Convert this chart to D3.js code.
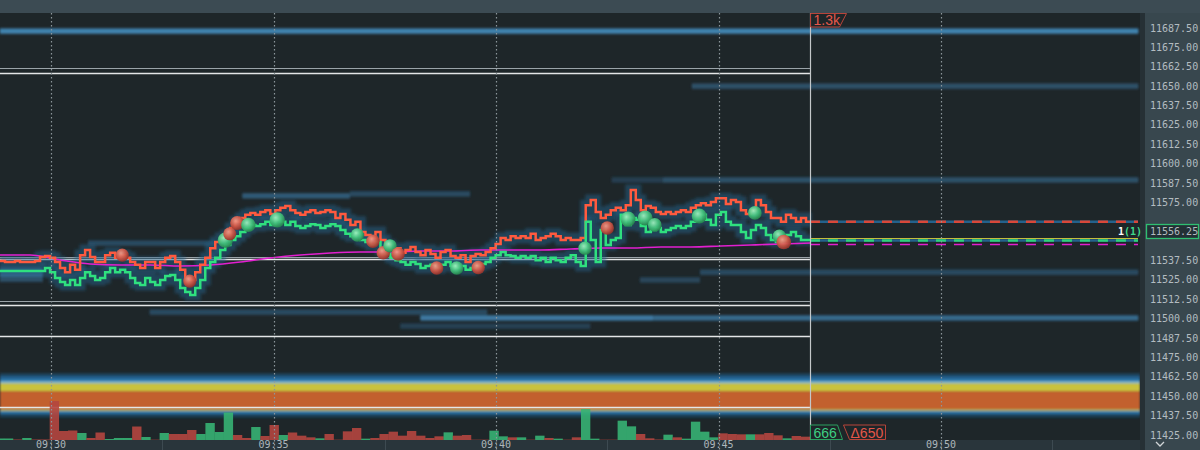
<!DOCTYPE html>
<html><head><meta charset="utf-8">
<script src="https://cdn.jsdelivr.net/npm/d3@7"></script>
<style>html,body{margin:0;padding:0;background:#1e2629;overflow:hidden}</style>
</head><body><svg id="c" width="1200" height="450"></svg>
<script>
// ---------- DATA ----------
const viewStart = "09:28:51.2";
const viewEnd = "09:54:25.6";
const nowTime = "09:47:03.3";
const sampleStart = "09:28:51.2";
const sampleStep = 6.75;           // seconds between price samples
const askPrices = [
11537.25,11536.50,11536.50,11537.25,11536.50,11536.50,11536.50,11537.25,11539.75,11540.50,
11539.25,11536.50,11532.75,11530.00,11534.75,11531.50,11541.00,11544.25,11539.75,11536.50,
11536.50,11541.00,11542.50,11539.25,11541.00,11539.25,11536.50,11534.75,11532.75,11536.50,
11536.50,11532.75,11536.50,11539.25,11540.50,11536.50,11531.50,11526.25,11525.00,11530.00,
11534.75,11539.25,11545.50,11549.50,11552.00,11554.00,11558.50,11562.50,11565.00,11567.00,
11568.25,11567.00,11568.75,11570.00,11567.50,11570.00,11571.50,11572.75,11570.00,11568.25,
11567.00,11568.75,11570.00,11568.25,11568.75,11570.00,11568.75,11565.00,11567.50,11563.75,
11560.50,11562.50,11556.00,11554.00,11552.00,11556.00,11550.75,11547.50,11544.25,11545.50,
11542.50,11544.25,11546.25,11543.00,11541.00,11544.25,11541.75,11539.25,11543.00,11544.25,
11540.50,11539.25,11541.00,11536.50,11540.50,11541.75,11541.00,11543.00,11545.50,11548.25,
11552.00,11550.75,11553.25,11552.00,11553.25,11552.00,11554.75,11550.75,11552.00,11553.25,
11554.75,11553.25,11550.75,11552.00,11550.75,11550.75,11552.00,11573.25,11576.50,11568.75,
11565.00,11567.00,11570.00,11571.50,11570.00,11573.25,11583.00,11576.50,11570.00,11572.75,
11571.50,11568.75,11567.50,11568.75,11567.50,11568.75,11570.00,11568.75,11571.50,11573.25,
11574.50,11573.25,11575.25,11577.75,11577.75,11574.00,11576.50,11575.25,11570.00,11567.50,
11570.00,11576.50,11573.25,11568.75,11565.00,11565.00,11562.50,11567.00,11565.00,11562.50,
11565.00,11562.50,11562.50];
const bidPrices = [
11530.75,11530.75,11530.75,11530.75,11530.75,11530.75,11530.75,11530.75,11530.75,11532.75,
11530.00,11526.25,11523.75,11521.75,11525.00,11521.75,11526.25,11530.00,11527.50,11525.00,
11526.25,11530.00,11532.75,11530.00,11531.50,11530.00,11526.25,11523.00,11521.75,11526.25,
11523.75,11521.75,11525.00,11527.50,11528.25,11525.00,11519.75,11517.25,11515.25,11519.75,
11525.00,11532.75,11536.50,11539.25,11544.25,11547.50,11550.75,11553.25,11556.00,11558.50,
11560.50,11559.75,11561.00,11562.50,11560.50,11563.75,11562.50,11560.50,11562.50,11559.75,
11558.50,11559.75,11561.00,11560.50,11558.50,11559.75,11561.00,11559.75,11557.25,11554.75,
11553.25,11555.25,11550.75,11549.50,11547.50,11549.50,11544.25,11541.75,11539.25,11537.75,
11536.50,11534.75,11536.50,11535.25,11532.75,11534.00,11534.75,11532.75,11534.75,11536.50,
11534.00,11532.75,11534.00,11531.50,11532.75,11534.00,11535.25,11536.50,11539.25,11541.00,
11543.00,11541.00,11540.50,11539.25,11540.50,11539.25,11540.50,11537.75,11539.25,11536.50,
11539.25,11537.75,11536.50,11539.25,11541.00,11536.50,11534.00,11562.50,11550.75,11536.50,
11557.25,11547.50,11550.75,11552.00,11567.00,11560.50,11565.00,11563.75,11559.75,11556.00,
11557.25,11558.50,11556.00,11557.25,11558.50,11559.75,11558.50,11559.75,11562.50,11563.75,
11567.00,11563.75,11560.50,11567.00,11568.75,11562.50,11560.50,11560.50,11556.00,11552.00,
11557.25,11560.50,11558.50,11554.00,11550.75,11549.50,11550.75,11554.00,11556.00,11553.25,
11550.75,11550.75,11550.75];
const vwapStep = 40.5;            // seconds between VWAP samples
const vwapPrices = [11541.09,11541.09,11537.86,11535.28,11534.64,11534.64,11533.99,11534.64,11536.57,11539.15,
11541.09,11542.38,11543.02,11543.02,11543.67,11543.67,11544.31,11544.31,11544.31,11544.96,11545.60,11545.60,
11546.25,11546.25,11546.89,11547.54,11548.18,11548.83];
const lastPrice = 11556.25;

const tradeTimes = ["09:31:36","09:33:07","09:33:55","09:34:01","09:34:11","09:34:26","09:35:05","09:36:53","09:37:14",
"09:37:28","09:37:37","09:37:48","09:38:40","09:39:07","09:39:36","09:42:00","09:42:30","09:42:58","09:43:21",
"09:43:34","09:44:34","09:45:49","09:46:22","09:46:28"];
const tradePrices = [11541.00,11524.25,11550.75,11554.75,11561.75,11560.50,11563.75,11554.00,11550.00,
11542.50,11547.00,11541.75,11532.75,11532.75,11533.00,11545.50,11558.50,11564.25,11565.00,
11560.50,11566.25,11568.25,11553.25,11549.50];
const tradeSizes = [38,38,52,38,44,46,52,40,40,40,40,40,40,40,40,40,40,50,50,42,50,42,40,48];
const tradeSides = ["s","s","b","s","s","b","b","b","s","s","b","s","s","b","s","b","s","b","b","b","b","b","b","s"];

const volStart = "09:28:44.1";
const volumes = [45,45,-15,60,-15,-15,-1170,-270,-285,210,-60,-225,30,60,60,-405,90,-10,210,-180,-180,-300,180,510,240,825,-150,-60,390,-120,-450,150,-225,
-130,-80,50,-180,-10,-260,-360,40,-60,-180,-250,-130,-270,-130,-60,-110,230,-130,-150,-10,-10,280,110,-80,80,-10,130,-60,40,-10,-80,930,40,-10,-10,580,410,-180,-50,-15,160,-80,40,550,250,80,-200,-180,-170,170,-170,-210,-140,50,-120,-100];
const volMaxLabel = "1.3k";
const buyVolLabel = "666";
const deltaLabel = "Δ650";

const bookPrices = [11685.50,11650.00,11589.50,11589.50,11579.25,11580.50,11548.75,11530.00,11525.00,11504.25,11500.50,11500.50,11495.25,11531.00,11528.00,11525.50];
const bookFrom = ["09:28:51","09:44:24","09:42:36","09:43:45","09:34:18","09:36:43","09:30:50","09:44:35","09:43:14","09:32:13","09:38:18","09:43:32","09:37:51","09:28:51","09:28:51","09:28:51"];
const bookTo = ["09:54:26","09:54:26","09:43:45","09:54:26","09:36:43","09:39:25","09:33:41","09:54:26","09:44:35","09:39:48","09:43:32","09:54:26","09:42:07","09:29:49","09:29:49","09:29:49"];
const bookLevel = [0.85,0.35,0.18,0.35,0.45,0.3,0.3,0.3,0.25,0.3,0.75,0.6,0.2,0.6,0.6,0.35];

const wallEdges = [11465.00,11463.00,11461.00,11459.50,11458.25,11453.25,11441.50,11440.75,11440.25,11438.50,11436.50];
const wallLevel = [0.3,0.5,0.6,0.75,0.9,1.0,0.9,0.75,0.55,0.3];

const levelPrices = [11661.75,11658.75,11539.50,11538.50,11511.50,11508.75,11488.75,11442.75];
const levelKinds = ["minor","major","minor","major","minor","major","major","major"];

const priceMin = 11425, priceMax = 11687.5, priceTickStep = 12.5;
const dominantLabel = ["1", "(1)"];

// ---------- SETUP ----------
const W = 1200, H = 450, plotR = 1138, topY = 13, volBase = 440;
const T = s => { const [h,m,sec] = s.split(":").map(Number); return new Date(2024,0,2,h,m,0,Math.round(sec*1000)); };
const addS = (d, s) => new Date(d.getTime() + s*1000);
const x = d3.scaleTime().domain([T(viewStart), T(viewEnd)]).range([0, plotR]);
const y = d3.scaleLinear().domain([priceMin, priceMax]).range([435, 28]);
const svg = d3.select("#c");
const defs = svg.append("defs");

function ballGrad(id, c0, c1, c2){
  const g = defs.append("radialGradient").attr("id", id).attr("cx","40%").attr("cy","35%").attr("r","65%");
  g.append("stop").attr("offset","0%").attr("stop-color",c0);
  g.append("stop").attr("offset","55%").attr("stop-color",c1);
  g.append("stop").attr("offset","100%").attr("stop-color",c2);
}
ballGrad("gb","#9eeebf","#45c27e","#27864f");
ballGrad("gs","#f09a88","#cf5a4a","#94332b");
defs.append("filter").attr("id","soft").attr("x","-5%").attr("y","-200%").attr("width","110%").attr("height","500%")
  .append("feGaussianBlur").attr("stdDeviation","0.9");
defs.append("filter").attr("id","glow").attr("x","-5%").attr("y","-50%").attr("width","110%").attr("height","200%")
  .append("feGaussianBlur").attr("stdDeviation","1.6");
defs.append("clipPath").attr("id","plotclip").append("rect").attr("x",0).attr("y",topY).attr("width",plotR+3).attr("height",volBase-topY);

// backgrounds
svg.append("rect").attr("width",W).attr("height",H).attr("fill","#1e2629");
svg.append("rect").attr("x",0).attr("y",0).attr("width",W).attr("height",topY).attr("fill","#3c4b53");

const plot = svg.append("g").attr("clip-path","url(#plotclip)");

// order book bands
const bandColor = d3.scaleLinear().domain([0,1]).range(["#1e2c36","#4a98cc"]);
const books = bookPrices.map((p,i)=>({p, a:T(bookFrom[i]), b:T(bookTo[i]), l:bookLevel[i]}));
const bg = plot.append("g").attr("filter","url(#soft)");
bg.selectAll("rect.o").data(books).join("rect").attr("class","o")
  .attr("x",d=>x(d.a)).attr("width",d=>x(d.b)-x(d.a)).attr("y",d=>y(d.p)-3).attr("height",6)
  .attr("fill",d=>bandColor(d.l*0.7));
bg.selectAll("rect.i").data(books).join("rect").attr("class","i")
  .attr("x",d=>x(d.a)).attr("width",d=>x(d.b)-x(d.a)).attr("y",d=>y(d.p)-1.3).attr("height",2.6)
  .attr("fill",d=>bandColor(d.l));

// liquidity wall
const heat = d3.scaleLinear().domain([0,0.3,0.5,0.6,0.75,0.9,1]).range(["#1e2629","#1d3f57","#22618e","#2f7fb4","#8cc3d6","#c9c23e","#c2602f"]);
const wall = wallLevel.map((l,i)=>({hi:wallEdges[i], lo:wallEdges[i+1], l}));
plot.append("g").attr("filter","url(#soft)").selectAll("rect").data(wall).join("rect")
  .attr("x",0).attr("width",plotR+2).attr("y",d=>y(d.hi)).attr("height",d=>y(d.lo)-y(d.hi)+0.3)
  .attr("fill",d=>heat(d.l));

// horizontal levels
const xNow = x(T(nowTime));
plot.selectAll("line.lvl").data(levelPrices.map((p,i)=>({p,k:levelKinds[i]}))).join("line")
  .attr("x1",0).attr("x2",xNow).attr("y1",d=>Math.round(y(d.p))+0.5).attr("y2",d=>Math.round(y(d.p))+0.5)
  .attr("stroke",d=>d.k==="major"?"#e4e6e7":"#9aa3a8").attr("stroke-width",d=>d.k==="major"?1.3:1);

// price series
const t0 = T(sampleStart);
const ask = askPrices.map((p,i)=>({t:addS(t0,i*sampleStep), p}));
const bid = bidPrices.map((p,i)=>({t:addS(t0,i*sampleStep), p}));
const vwap = vwapPrices.map((p,i)=>({t:addS(t0,i*vwapStep), p}));
const line = d3.line().x(d=>x(d.t)).y(d=>y(d.p)).curve(d3.curveStepAfter);
const sline = d3.line().x(d=>x(d.t)).y(d=>y(d.p)).curve(d3.curveMonotoneX);
[ask,bid].forEach(s=>plot.append("path").attr("d",line(s)).attr("fill","none")
  .attr("stroke","#1f5f88").attr("stroke-width",11).attr("stroke-opacity",0.5).attr("filter","url(#glow)"));
plot.append("path").attr("d",sline(vwap)).attr("fill","none").attr("stroke","#e21fcf").attr("stroke-width",1.6);
plot.append("path").attr("d",line(ask)).attr("fill","none").attr("stroke","#ff5a3f").attr("stroke-width",2.5);
plot.append("path").attr("d",line(bid)).attr("fill","none").attr("stroke","#2fe07f").attr("stroke-width",2.5);

// extensions to the right
const lastAsk = askPrices[askPrices.length-1], lastBid = bidPrices[bidPrices.length-1], lastV = vwapPrices[vwapPrices.length-1];
function ext(p, color, w, dash, dy){
  plot.append("line").attr("x1",xNow).attr("x2",plotR).attr("y1",y(p)+(dy||0)).attr("y2",y(p)+(dy||0))
   .attr("stroke",color).attr("stroke-width",w).attr("stroke-dasharray",dash||null);
}
ext(lastAsk,"#24628c",2.5);
ext(lastAsk,"#d9483a",2.5,"10,8");
ext(lastBid,"#c9c23e",1,null,-1.5);
ext(lastBid,"#24628c",2.5,null,0.5);
ext(lastBid,"#2fd27a",2.5,"10,8",0.5);
ext(lastV,"#e21fcf",1.6,"10,8",1.5);

// volume bars
const vb = d3.scaleBand().domain(d3.range(volumes.length)).range([x(T(volStart)), xNow]).padding(0);
const vh = d3.scaleLinear().domain([0,1300]).range([0,43.3]);
plot.append("g").selectAll("rect").data(volumes).join("rect")
  .attr("x",(d,i)=>vb(i)).attr("width",vb.bandwidth()+0.2)
  .attr("y",d=>volBase-vh(Math.abs(d))).attr("height",d=>vh(Math.abs(d)))
  .attr("fill",d=>d>0?"#36b273":"#b4463f").attr("fill-opacity",0.9);

// gridlines
const xt = x.ticks(d3.timeMinute.every(5));
svg.append("g").selectAll("line").data(xt).join("line")
  .attr("x1",d=>Math.round(x(d))+0.5).attr("x2",d=>Math.round(x(d))+0.5).attr("y1",topY).attr("y2",H)
  .attr("stroke","#8c969b").attr("stroke-width",1.2).attr("stroke-dasharray","1.5,2.5");

// current time line
svg.append("line").attr("x1",Math.round(xNow)+0.5).attr("x2",Math.round(xNow)+0.5).attr("y1",topY).attr("y2",volBase)
  .attr("stroke","#c3c7c9").attr("stroke-width",1.2);

// trades
const rs = d3.scaleSqrt().domain([0,60]).range([0,8.2]);
svg.append("g").selectAll("circle").data(tradeTimes.map((t,i)=>({t:T(t),p:tradePrices[i],s:tradeSizes[i],side:tradeSides[i]}))).join("circle")
  .attr("cx",d=>x(d.t)).attr("cy",d=>y(d.p)).attr("r",d=>rs(d.s))
  .attr("fill",d=>d.side==="b"?"url(#gb)":"url(#gs)").attr("fill-opacity",0.95);

// bottom axis bar
svg.append("rect").attr("x",0).attr("y",volBase).attr("width",1145).attr("height",H-volBase).attr("fill","#29353b");
const minor = xt.map(d=>addS(d,-150)).concat([addS(xt[xt.length-1],150)]);
svg.append("g").selectAll("line").data(minor).join("line")
  .attr("x1",d=>Math.round(x(d))+0.5).attr("x2",d=>Math.round(x(d))+0.5).attr("y1",volBase).attr("y2",H)
  .attr("stroke","#3d4a51");
svg.append("g").selectAll("line").data(xt).join("line")
  .attr("x1",d=>Math.round(x(d))+0.5).attr("x2",d=>Math.round(x(d))+0.5).attr("y1",volBase).attr("y2",H)
  .attr("stroke","#8c969b").attr("stroke-width",1.2).attr("stroke-dasharray","1.5,2.5");
svg.append("g").selectAll("text").data(xt).join("text")
  .attr("x",d=>x(d)).attr("y",447.5).attr("text-anchor","middle")
  .attr("font-family","DejaVu Sans Mono, monospace").attr("font-size",10).attr("fill","#aeb7bb")
  .text(d3.timeFormat("%H:%M"));

// right strip + axis panel
svg.append("rect").attr("x",plotR+2).attr("y",topY).attr("width",7).attr("height",H-topY).attr("fill","#263035");
svg.append("rect").attr("x",1145).attr("y",0).attr("width",55).attr("height",H).attr("fill","#38474e");
svg.append("rect").attr("x",1145).attr("y",0).attr("width",55).attr("height",topY).attr("fill","#3c4b53");
const yticks = d3.range(priceMin, priceMax+0.01, priceTickStep);
const yLast = y(lastPrice);
svg.append("g").selectAll("text").data(yticks.filter(v=>Math.abs(y(v)-yLast)>13)).join("text")
  .attr("x",1150).attr("y",d=>y(d)).attr("dy","0.35em")
  .attr("font-family","DejaVu Sans Mono, monospace").attr("font-size",10).attr("fill","#b3bcc0")
  .text(d=>d3.format(".2f")(d));
svg.append("rect").attr("x",1146.5).attr("y",yLast-7).attr("width",52).attr("height",14)
  .attr("fill","#233035").attr("stroke","#2fbf71").attr("stroke-width",1.3);
svg.append("text").attr("x",1150).attr("y",yLast).attr("dy","0.35em")
  .attr("font-family","DejaVu Sans Mono, monospace").attr("font-size",10).attr("fill","#b3bcc0")
  .text(d3.format(".2f")(lastPrice));
const dl = svg.append("text").attr("x",1142).attr("y",yLast).attr("dy","0.35em").attr("text-anchor","end")
  .attr("font-family","DejaVu Sans Mono, monospace").attr("font-size",10).attr("font-weight","bold");
dl.append("tspan").attr("fill","#ffffff").text(dominantLabel[0]);
dl.append("tspan").attr("fill","#3fd98a").text(dominantLabel[1]);
svg.append("path").attr("d","M1156,442 L1160,446 L1164,442").attr("fill","none").attr("stroke","#d0d5d7").attr("stroke-width",1.3);

// labels near current time
const xl = Math.round(xNow)+0.5;
svg.append("path").attr("d",`M${xl},13.5 L${xl+36},13.5 L${xl+29},27 L${xl},27 Z`).attr("fill","#1e2629").attr("fill-opacity",0.6).attr("stroke","#b8443a");
svg.append("text").attr("x",xl+3).attr("y",25).attr("font-family","Liberation Sans, Arial, sans-serif").attr("font-size",14).attr("fill","#e5574a").text(volMaxLabel);
svg.append("path").attr("d",`M${xl},425 L${xl+27},425 L${xl+32},439.5 L${xl},439.5 Z`).attr("fill","#1e2629").attr("stroke","#2aa060");
svg.append("text").attr("x",xl+3).attr("y",437.5).attr("font-family","Liberation Sans, Arial, sans-serif").attr("font-size",14).attr("fill","#3ecf83").text(buyVolLabel);
svg.append("path").attr("d",`M${xl+33},425 L${xl+75},425 L${xl+75},439.5 L${xl+39},439.5 Z`).attr("fill","#1e2629").attr("stroke","#b8443a");
svg.append("text").attr("x",xl+40).attr("y",437.5).attr("font-family","Liberation Sans, Arial, sans-serif").attr("font-size",14).attr("fill","#e5574a").text(deltaLabel);
</script></body></html>
